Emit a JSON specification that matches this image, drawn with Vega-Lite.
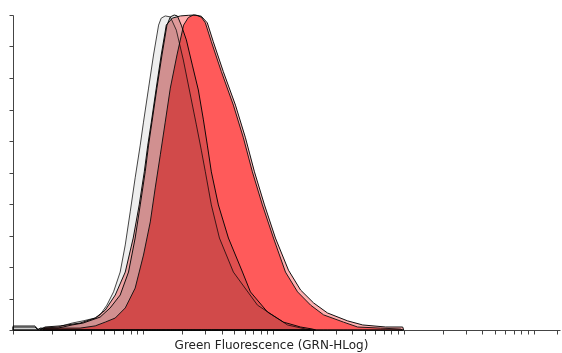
{
  "$schema": "https://vega.github.io/schema/vega-lite/v6.json",
  "width": 547,
  "height": 315,
  "autosize": "none",
  "padding": {"left": 13, "top": 15, "right": 2, "bottom": 23},
  "background": "white",
  "config": {"view": {"stroke": null}},
  "datasets": {
    "hist": [
      {"s": "A", "x": 0, "y": 1.3}, {"s": "A", "x": 0.169, "y": 1.3}, {"s": "A", "x": 0.192, "y": 0.3}, {"s": "A", "x": 0.246, "y": 0.6}, {"s": "A", "x": 0.346, "y": 0.95}, {"s": "A", "x": 0.454, "y": 2.2}, {"s": "A", "x": 0.538, "y": 2.9}, {"s": "A", "x": 0.631, "y": 3.8}, {"s": "A", "x": 0.669, "y": 4.8}, {"s": "A", "x": 0.721, "y": 7.9}, {"s": "A", "x": 0.772, "y": 12.1}, {"s": "A", "x": 0.823, "y": 18.4}, {"s": "A", "x": 0.862, "y": 27.0}, {"s": "A", "x": 0.9, "y": 37.5}, {"s": "A", "x": 0.938, "y": 48.3}, {"s": "A", "x": 0.977, "y": 58.7}, {"s": "A", "x": 1.002, "y": 66.0}, {"s": "A", "x": 1.041, "y": 76.8}, {"s": "A", "x": 1.079, "y": 87.3}, {"s": "A", "x": 1.118, "y": 96.8}, {"s": "A", "x": 1.138, "y": 99.0}, {"s": "A", "x": 1.169, "y": 99.7}, {"s": "A", "x": 1.208, "y": 99.4}, {"s": "A", "x": 1.254, "y": 95.2}, {"s": "A", "x": 1.308, "y": 85.7}, {"s": "A", "x": 1.362, "y": 74.6}, {"s": "A", "x": 1.408, "y": 65.1}, {"s": "A", "x": 1.446, "y": 57.1}, {"s": "A", "x": 1.477, "y": 50.2}, {"s": "A", "x": 1.523, "y": 39.7}, {"s": "A", "x": 1.585, "y": 29.2}, {"s": "A", "x": 1.692, "y": 18.4}, {"s": "A", "x": 1.877, "y": 7.9}, {"s": "A", "x": 2.108, "y": 1.6}, {"s": "A", "x": 2.246, "y": 0.3}, {"s": "A", "x": 2.285, "y": 0},
      {"s": "B", "x": 0, "y": 0.95}, {"s": "B", "x": 0.169, "y": 0.95}, {"s": "B", "x": 0.192, "y": 0}, {"s": "B", "x": 0.208, "y": 0.6}, {"s": "B", "x": 0.346, "y": 0.6}, {"s": "B", "x": 0.454, "y": 1.6}, {"s": "B", "x": 0.538, "y": 2.2}, {"s": "B", "x": 0.669, "y": 4.1}, {"s": "B", "x": 0.746, "y": 7.0}, {"s": "B", "x": 0.823, "y": 11.1}, {"s": "B", "x": 0.887, "y": 18.4}, {"s": "B", "x": 0.938, "y": 29.2}, {"s": "B", "x": 0.977, "y": 39.7}, {"s": "B", "x": 1.015, "y": 50.2}, {"s": "B", "x": 1.041, "y": 58.7}, {"s": "B", "x": 1.067, "y": 66.0}, {"s": "B", "x": 1.105, "y": 76.8}, {"s": "B", "x": 1.144, "y": 87.3}, {"s": "B", "x": 1.182, "y": 96.8}, {"s": "B", "x": 1.208, "y": 99.4}, {"s": "B", "x": 1.238, "y": 100}, {"s": "B", "x": 1.262, "y": 99.7}, {"s": "B", "x": 1.292, "y": 96.8}, {"s": "B", "x": 1.331, "y": 92.1}, {"s": "B", "x": 1.377, "y": 84.1}, {"s": "B", "x": 1.423, "y": 76.2}, {"s": "B", "x": 1.462, "y": 66.7}, {"s": "B", "x": 1.492, "y": 58.7}, {"s": "B", "x": 1.523, "y": 50.2}, {"s": "B", "x": 1.577, "y": 39.7}, {"s": "B", "x": 1.654, "y": 29.2}, {"s": "B", "x": 1.762, "y": 18.4}, {"s": "B", "x": 1.823, "y": 12.1}, {"s": "B", "x": 1.954, "y": 5.7}, {"s": "B", "x": 2.077, "y": 2.5}, {"s": "B", "x": 2.208, "y": 0.95}, {"s": "B", "x": 2.3, "y": 0.3}, {"s": "B", "x": 2.323, "y": 0},
      {"s": "R1", "x": 0.231, "y": 0}, {"s": "R1", "x": 0.246, "y": 0.6}, {"s": "R1", "x": 0.515, "y": 0.6}, {"s": "R1", "x": 0.631, "y": 1.3}, {"s": "R1", "x": 0.708, "y": 2.5}, {"s": "R1", "x": 0.785, "y": 3.8}, {"s": "R1", "x": 0.862, "y": 7.0}, {"s": "R1", "x": 0.938, "y": 13.3}, {"s": "R1", "x": 1.002, "y": 23.8}, {"s": "R1", "x": 1.054, "y": 34.3}, {"s": "R1", "x": 1.092, "y": 45.1}, {"s": "R1", "x": 1.131, "y": 55.6}, {"s": "R1", "x": 1.169, "y": 66.0}, {"s": "R1", "x": 1.208, "y": 76.8}, {"s": "R1", "x": 1.259, "y": 87.3}, {"s": "R1", "x": 1.31, "y": 96.8}, {"s": "R1", "x": 1.346, "y": 99.2}, {"s": "R1", "x": 1.385, "y": 100}, {"s": "R1", "x": 1.415, "y": 99.8}, {"s": "R1", "x": 1.446, "y": 99.3}, {"s": "R1", "x": 1.477, "y": 97.5}, {"s": "R1", "x": 1.523, "y": 91.5}, {"s": "R1", "x": 1.6, "y": 82.0}, {"s": "R1", "x": 1.692, "y": 71.4}, {"s": "R1", "x": 1.769, "y": 61.0}, {"s": "R1", "x": 1.838, "y": 50.2}, {"s": "R1", "x": 1.915, "y": 39.7}, {"s": "R1", "x": 2.0, "y": 29.2}, {"s": "R1", "x": 2.092, "y": 18.4}, {"s": "R1", "x": 2.185, "y": 12.1}, {"s": "R1", "x": 2.285, "y": 7.9}, {"s": "R1", "x": 2.385, "y": 4.8}, {"s": "R1", "x": 2.538, "y": 2.5}, {"s": "R1", "x": 2.646, "y": 0.95}, {"s": "R1", "x": 2.823, "y": 0.6}, {"s": "R1", "x": 2.977, "y": 0.3}, {"s": "R1", "x": 2.992, "y": 0},
      {"s": "R2", "x": 0.208, "y": 0}, {"s": "R2", "x": 0.246, "y": 0.95}, {"s": "R2", "x": 0.362, "y": 1.3}, {"s": "R2", "x": 0.515, "y": 2.2}, {"s": "R2", "x": 0.631, "y": 3.8}, {"s": "R2", "x": 0.708, "y": 6.3}, {"s": "R2", "x": 0.785, "y": 11.1}, {"s": "R2", "x": 0.862, "y": 18.4}, {"s": "R2", "x": 0.923, "y": 29.2}, {"s": "R2", "x": 0.969, "y": 39.7}, {"s": "R2", "x": 1.008, "y": 50.2}, {"s": "R2", "x": 1.035, "y": 58.7}, {"s": "R2", "x": 1.062, "y": 66.0}, {"s": "R2", "x": 1.1, "y": 76.8}, {"s": "R2", "x": 1.138, "y": 87.3}, {"s": "R2", "x": 1.177, "y": 96.8}, {"s": "R2", "x": 1.223, "y": 99.0}, {"s": "R2", "x": 1.285, "y": 99.7}, {"s": "R2", "x": 1.346, "y": 99.9}, {"s": "R2", "x": 1.4, "y": 100}, {"s": "R2", "x": 1.446, "y": 99.6}, {"s": "R2", "x": 1.492, "y": 97.5}, {"s": "R2", "x": 1.538, "y": 91.5}, {"s": "R2", "x": 1.615, "y": 82.0}, {"s": "R2", "x": 1.708, "y": 71.4}, {"s": "R2", "x": 1.785, "y": 61.0}, {"s": "R2", "x": 1.854, "y": 50.2}, {"s": "R2", "x": 1.931, "y": 39.7}, {"s": "R2", "x": 2.015, "y": 29.2}, {"s": "R2", "x": 2.115, "y": 19.0}, {"s": "R2", "x": 2.208, "y": 12.7}, {"s": "R2", "x": 2.308, "y": 8.6}, {"s": "R2", "x": 2.415, "y": 5.4}, {"s": "R2", "x": 2.569, "y": 2.9}, {"s": "R2", "x": 2.685, "y": 1.6}, {"s": "R2", "x": 2.862, "y": 0.95}, {"s": "R2", "x": 2.992, "y": 0.95}, {"s": "R2", "x": 3.0, "y": 0}
    ]
  },
  "data": {"name": "hist"},
  "encoding": {
    "x": {
      "field": "x", "type": "quantitative",
      "scale": {"domain": [0, 4.2], "nice": false, "zero": false},
      "axis": {
        "title": "Green Fluorescence (GRN-HLog)",
        "titleFont": "DejaVu Sans", "titleFontSize": 12, "titleFontWeight": "normal", "titleColor": "#222",
        "titleX": 258, "titleY": 18, "titleAlign": "center", "titleBaseline": "alphabetic",
        "labels": false, "grid": false,
        "domainColor": "#444", "tickColor": "#444", "tickSize": 4,
        "values": [0, 0.301, 0.477, 0.602, 0.699, 0.778, 0.845, 0.903, 0.954, 1, 1.301, 1.477, 1.602, 1.699, 1.778, 1.845, 1.903, 1.954, 2, 2.301, 2.477, 2.602, 2.699, 2.778, 2.845, 2.903, 2.954, 3, 3.301, 3.477, 3.602, 3.699, 3.778, 3.845, 3.903, 3.954, 4, 4.176]
      }
    },
    "y": {
      "field": "y", "type": "quantitative",
      "scale": {"domain": [0, 100], "nice": false},
      "axis": {
        "title": null, "labels": false, "grid": false,
        "domainColor": "#444", "tickColor": "#444", "tickSize": 4,
        "values": [0, 10, 20, 30, 40, 50, 60, 70, 80, 90, 100]
      }
    }
  },
  "layer": [
    {"transform": [{"filter": "datum.s === 'A'"}], "mark": {"type": "area", "fill": "#EEEEEE", "stroke": "#444", "strokeWidth": 1, "blend": "multiply"}},
    {"transform": [{"filter": "datum.s === 'B'"}], "mark": {"type": "area", "fill": "#E0E0E0", "stroke": "#111", "strokeWidth": 1, "blend": "multiply"}},
    {"transform": [{"filter": "datum.s === 'R1'"}], "mark": {"type": "area", "fill": "#FF8282", "stroke": "#222", "strokeWidth": 1, "blend": "multiply"}},
    {"transform": [{"filter": "datum.s === 'R2'"}], "mark": {"type": "area", "fill": "#FFB0B0", "stroke": "#111", "strokeWidth": 1, "blend": "multiply"}}
  ]
}
